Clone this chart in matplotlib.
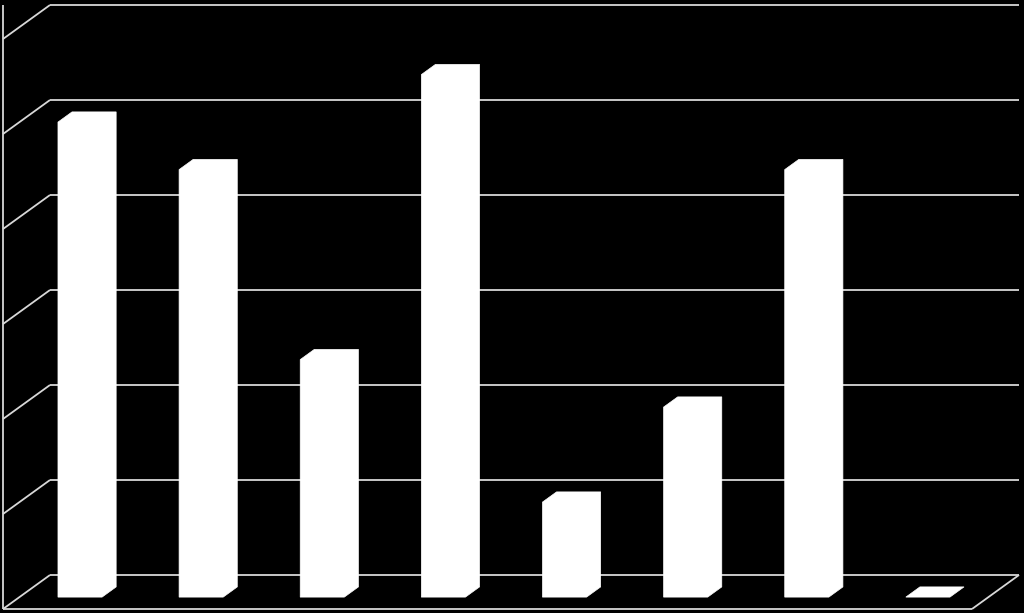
import numpy as np
import matplotlib
matplotlib.use("Agg")
import matplotlib.pyplot as plt
from matplotlib.patches import Polygon

# values (no labels shown in the picture)
categories = ["1", "2", "3", "4", "5", "6", "7", "8"]
values = [5, 4.5, 2.5, 5.5, 1, 2, 4.5, 0]
grid_values = [0, 1, 2, 3, 4, 5, 6]

fig = plt.figure(figsize=(10.24, 6.13), dpi=100, facecolor="black")
# front plane of the fake 3D box
ax = fig.add_axes([3 / 1024, 4 / 613, 969 / 1024, 570 / 613])
ax.set_facecolor("black")
ax.set_xlim(0, len(categories))
ax.set_ylim(0, max(grid_values))
ax.axis("off")

# oblique depth offset (depth 0 = front, 1 = back wall) in data units
DX = 47 / 969 * len(categories)
DY = 34 / 570 * max(grid_values)


def proj(x, v, d):
    return x + d * DX, v + d * DY


line_kw = dict(color="#d8d8d8", lw=1.3, clip_on=False, solid_capstyle="butt")
n = len(categories)

# back wall gridlines + left wall diagonals
for g in grid_values:
    x0, y0 = proj(0, g, 1)
    x1, y1 = proj(n, g, 1)
    ax.plot([x0, x1], [y0, y1], **line_kw)
    fx, fy = proj(0, g, 0)
    ax.plot([fx, x0], [fy, y0], **line_kw)

# left wall front edge
ax.plot([0, 0], [0, max(grid_values) + DY], **line_kw)
# floor front and right edges
ax.plot([0, n], [0, 0], **line_kw)
bx, by = proj(n, 0, 1)
ax.plot([n, bx], [0, by], **line_kw)

# bars
half = 0.182
d0, d1 = 0.35, 0.65
for i, v in enumerate(values):
    c = i + 0.5
    pts = [
        proj(c - half, 0, d0),
        proj(c - half, v, d0),
        proj(c - half, v, d1),
        proj(c + half, v, d1),
        proj(c + half, 0, d1),
        proj(c + half, 0, d0),
    ]
    ax.add_patch(Polygon(pts, closed=True, facecolor="white",
                         edgecolor="white", lw=0.5, clip_on=False, zorder=3))

fig.savefig("out.png", dpi=100, facecolor="black")
